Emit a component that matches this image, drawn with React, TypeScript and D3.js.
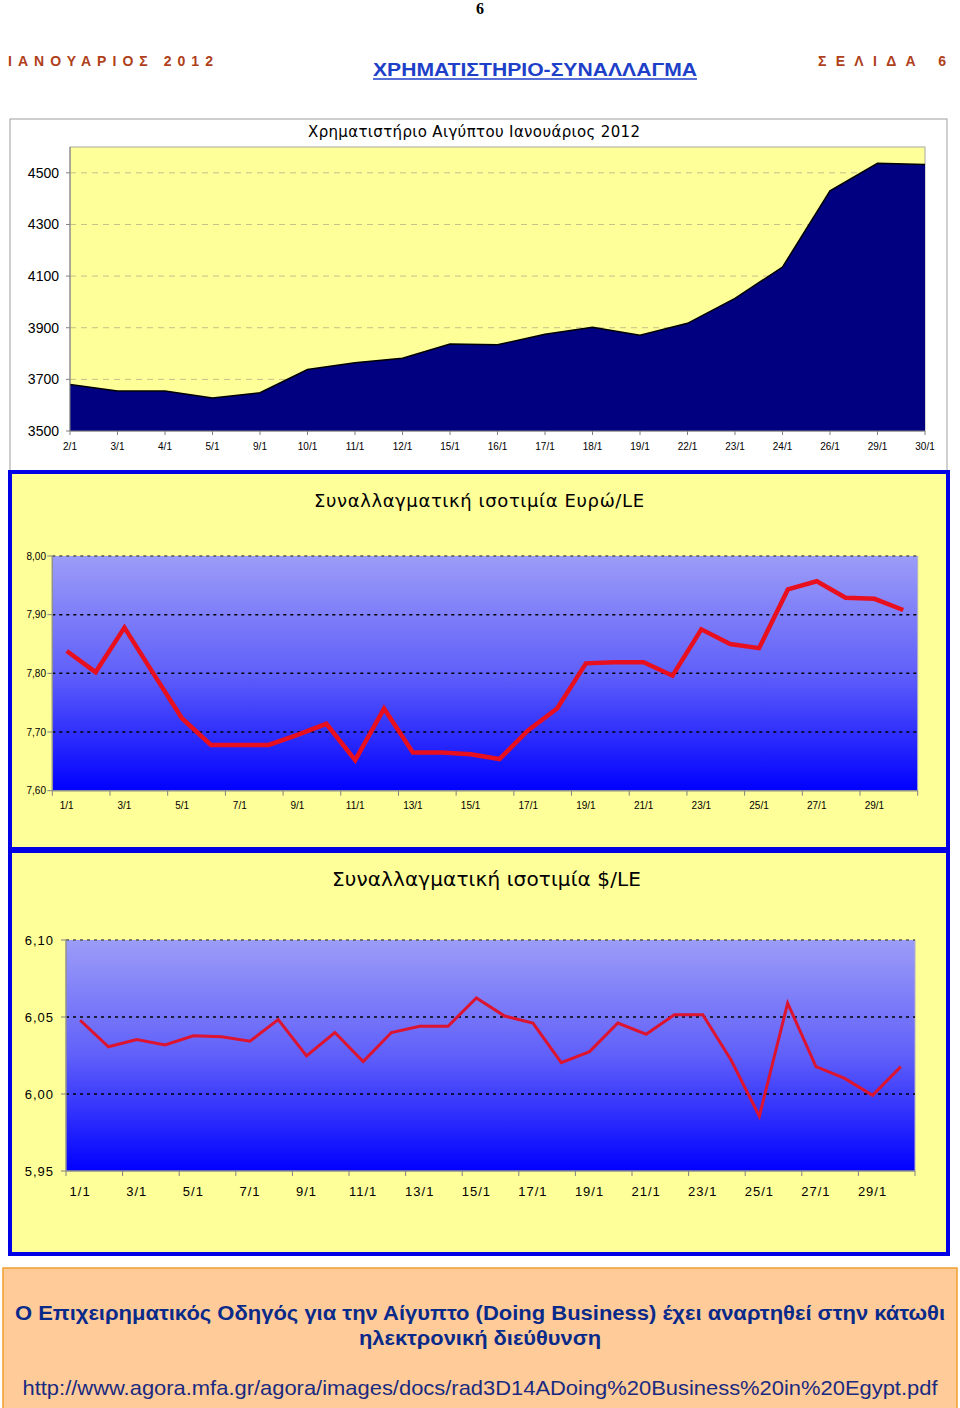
import React from 'react';
import * as d3 from 'd3';

// ---------- DATA ----------
const stockDates = ['2/1','3/1','4/1','5/1','9/1','10/1','11/1','12/1','15/1','16/1','17/1','18/1','19/1','22/1','23/1','24/1','26/1','29/1','30/1'];
const stockValues = [3680,3655,3655,3628,3648,3738,3764,3782,3837,3834,3875,3902,3871,3917,4014,4135,4430,4537,4532];
const stockTicks = [3500,3700,3900,4100,4300,4500];

const fxDays = ['1/1','2/1','3/1','4/1','5/1','6/1','7/1','8/1','9/1','10/1','11/1','12/1','13/1','14/1','15/1','16/1','17/1','18/1','19/1','20/1','21/1','22/1','23/1','24/1','25/1','26/1','27/1','28/1','29/1','30/1'];
const fxLabels = ['1/1','3/1','5/1','7/1','9/1','11/1','13/1','15/1','17/1','19/1','21/1','23/1','25/1','27/1','29/1'];

const eurValues = [7.838,7.802,7.878,7.800,7.723,7.678,7.678,7.678,7.695,7.714,7.652,7.740,7.665,7.665,7.662,7.654,7.703,7.740,7.817,7.819,7.819,7.796,7.875,7.850,7.843,7.943,7.957,7.929,7.927,7.908];
const eurTicks = [7.6,7.7,7.8,7.9,8.0];

const usdValues = [6.0479,6.0307,6.0354,6.0318,6.0378,6.0371,6.0343,6.0483,6.0247,6.0399,6.0210,6.0399,6.0440,6.0440,6.0624,6.0506,6.0461,6.0204,6.0275,6.0461,6.0388,6.0515,6.0515,6.0221,5.9856,6.0590,6.0178,6.0103,5.9991,6.0178];
const usdTicks = [5.95,6.0,6.05,6.1];

const fmtComma = (v: number) => d3.format('.2f')(v).replace('.', ',');

// ---------- CHART 1 ----------
function StockChart() {
  const left = 70, right = 925, top = 147, bottom = 431;
  const x = d3.scalePoint<string>().domain(stockDates).range([left, right]);
  const y = d3.scaleLinear().domain([3500, 4600]).range([bottom, top]);
  const pts = stockDates.map((d, i) => ({ d, v: stockValues[i] }));
  const area = d3.area<any>().x(p => x(p.d)!).y0(bottom).y1(p => y(p.v));
  const line = d3.line<any>().x(p => x(p.d)!).y(p => y(p.v));
  return (
    <g>
      <rect x={10} y={119} width={937} height={360} fill="#ffffff" stroke="#a0a0a0" strokeWidth={1} />
      <text x={474} y={137} textAnchor="middle" fontFamily="DejaVu Sans, sans-serif" fontSize={15} textLength={332} lengthAdjust="spacing" fill="#000">Χρηματιστήριο Αιγύπτου Ιανουάριος 2012</text>
      <rect x={left} y={top} width={right - left} height={bottom - top} fill="#FFFF99" stroke="#a8a8a8" strokeWidth={1} />
      {stockTicks.filter(t => t > 3500).map(t => (
        <line key={t} x1={left} x2={right} y1={y(t)} y2={y(t)} stroke="#c9bd8c" strokeWidth={1} strokeDasharray="6,5" />
      ))}
      <path d={area(pts)!} fill="#000080" />
      <path d={line(pts)!} fill="none" stroke="#000000" strokeWidth={1.5} />
      <line x1={left} x2={left} y1={top} y2={bottom} stroke="#808080" />
      <line x1={left} x2={right} y1={bottom} y2={bottom} stroke="#808080" />
      {stockTicks.map(t => (
        <g key={t}>
          <line x1={left - 4} x2={left} y1={y(t)} y2={y(t)} stroke="#808080" />
          <text x={59} y={y(t) + 5} textAnchor="end" fontFamily="Arial, Liberation Sans, sans-serif" fontSize={14} fill="#000">{t}</text>
        </g>
      ))}
      {stockDates.map(d => (
        <g key={d}>
          <line x1={x(d)!} x2={x(d)!} y1={bottom} y2={bottom + 4} stroke="#808080" />
          <text x={x(d)!} y={450} textAnchor="middle" fontFamily="Arial, Liberation Sans, sans-serif" fontSize={10} fill="#000">{d}</text>
        </g>
      ))}
    </g>
  );
}

// ---------- FX CHART ----------
function FxChart(props: {
  boxY: number; boxH: number; title: string; titleY: number; titleSize: number; titleX0: number; titleX1: number;
  left: number; right: number; top: number; bottom: number; domain: [number, number]; ticks: number[]; values: number[];
  labelSize: number; labelRight: number; xLabelY: number; letterSp: number; lineColor: string; lineW: number; gid: string;
}) {
  const p = props;
  const x = d3.scaleBand<string>().domain(fxDays).range([p.left, p.right]).padding(0);
  const bw = x.bandwidth();
  const cx = (d: string) => x(d)! + bw / 2;
  const y = d3.scaleLinear().domain(p.domain).range([p.bottom, p.top]);
  const line = d3.line<number>().x((v, i) => cx(fxDays[i])).y(v => y(v));
  const tickDays = fxDays.filter((d, i) => i % 2 === 0);
  return (
    <g>
      <defs>
        <linearGradient id={p.gid} x1="0" y1="0" x2="0" y2="1">
          <stop offset="0" stopColor="#9c9cf8" />
          <stop offset="0.5" stopColor="#6060fa" />
          <stop offset="1" stopColor="#0000ff" />
        </linearGradient>
      </defs>
      <rect x={10} y={p.boxY} width={938} height={p.boxH} fill="#FFFF99" stroke="#0000e6" strokeWidth={4} />
      <text x={(p.titleX0 + p.titleX1) / 2} y={p.titleY} textAnchor="middle" fontFamily="DejaVu Sans, sans-serif" fontSize={p.titleSize} textLength={p.titleX1 - p.titleX0} lengthAdjust="spacing" fill="#000">{p.title}</text>
      <rect x={p.left} y={p.top} width={p.right - p.left} height={p.bottom - p.top} fill={`url(#${p.gid})`} />
      <line x1={p.right} x2={p.right} y1={p.top} y2={p.bottom} stroke="#b0b0c8" strokeWidth={1} />
      {p.ticks.filter(t => t > p.domain[0]).map(t => (
        <line key={t} x1={p.left} x2={p.right} y1={y(t)} y2={y(t)} stroke={t === p.domain[1] ? '#555' : '#000'} strokeWidth={1.5} strokeDasharray="3,4" />
      ))}
      <line x1={p.left} x2={p.left} y1={p.top} y2={p.bottom} stroke="#909090" strokeWidth={1.5} />
      <line x1={p.left} x2={p.right} y1={p.bottom} y2={p.bottom} stroke="#909090" strokeWidth={1.5} />
      {p.ticks.map(t => (
        <g key={t}>
          <line x1={p.left - 5} x2={p.left} y1={y(t)} y2={y(t)} stroke="#808080" />
          <text x={p.labelRight} y={y(t) + p.labelSize * 0.35} textAnchor="end" fontFamily="Arial, Liberation Sans, sans-serif" fontSize={p.labelSize} letterSpacing={p.letterSp} fill="#000">{fmtComma(t)}</text>
        </g>
      ))}
      {tickDays.map(d => (
        <line key={d} x1={x(d)!} x2={x(d)!} y1={p.bottom} y2={p.bottom + 5} stroke="#808080" />
      ))}
      <line x1={p.right} x2={p.right} y1={p.bottom} y2={p.bottom + 5} stroke="#808080" />
      {fxLabels.map(d => (
        <text key={d} x={cx(d)} y={p.xLabelY} textAnchor="middle" fontFamily="Arial, Liberation Sans, sans-serif" fontSize={p.labelSize} letterSpacing={p.letterSp} fill="#000">{d}</text>
      ))}
      <path d={line(p.values)!} fill="none" stroke={p.lineColor} strokeWidth={p.lineW} strokeLinejoin="miter" />
    </g>
  );
}

export default function App() {
  return (
    <svg width={960} height={1408} style={{ position: 'absolute', left: 0, top: 0, background: '#fff' }}>
      {/* header */}
      <text x={480} y={14} textAnchor="middle" fontFamily="Liberation Serif, serif" fontWeight="bold" fontSize={16} fill="#000">6</text>
      <text x={8} y={66} fontFamily="Arial, Liberation Sans, sans-serif" fontWeight="bold" fontSize={14} fill="#b0401a" textLength={205} lengthAdjust="spacing">ΙΑΝΟΥΑΡΙΟΣ 2012</text>
      <text x={818} y={66} fontFamily="Arial, Liberation Sans, sans-serif" fontWeight="bold" fontSize={14} fill="#b0401a" textLength={128} lengthAdjust="spacing">ΣΕΛΙΔΑ  6</text>
      <text x={373} y={76} fontFamily="Arial, Liberation Sans, sans-serif" fontWeight="bold" fontSize={18} fill="#1e3fc8" textLength={324} lengthAdjust="spacingAndGlyphs">ΧΡΗΜΑΤΙΣΤΗΡΙΟ-ΣΥΝΑΛΛΑΓΜΑ</text>
      <line x1={373} x2={697} y1={79} y2={79} stroke="#1e3fc8" strokeWidth={1.5} />

      <StockChart />

      <FxChart boxY={472} boxH={377} title="Συναλλαγματική ισοτιμία Ευρώ/LE" titleY={507} titleSize={18} titleX0={314} titleX1={644}
        left={52.3} right={917.7} top={556} bottom={790.7} domain={[7.6, 8.0]} ticks={eurTicks} values={eurValues}
        labelSize={10} labelRight={46} xLabelY={809} letterSp={0} lineColor="#e8101e" lineW={4.5} gid="g1" />

      <FxChart boxY={851} boxH={403} title="Συναλλαγματική ισοτιμία $/LE" titleY={886} titleSize={20} titleX0={332} titleX1={641}
        left={66} right={915} top={940} bottom={1171} domain={[5.95, 6.1]} ticks={usdTicks} values={usdValues}
        labelSize={13} labelRight={54} xLabelY={1196} letterSp={1} lineColor="#dc1430" lineW={3} gid="g2" />

      {/* footer */}
      <rect x={3} y={1268} width={954} height={145} fill="#FFCC99" stroke="#f0a030" strokeWidth={1.5} />
      <text x={480} y={1320} textAnchor="middle" fontFamily="Arial, Liberation Sans, sans-serif" fontWeight="bold" fontSize={21} fill="#0a2a8a" textLength={930} lengthAdjust="spacingAndGlyphs">Ο Επιχειρηματικός Οδηγός για την Αίγυπτο (Doing Business) έχει αναρτηθεί στην κάτωθι</text>
      <text x={480} y={1345} textAnchor="middle" fontFamily="Arial, Liberation Sans, sans-serif" fontWeight="bold" fontSize={21} fill="#0a2a8a" textLength={242} lengthAdjust="spacingAndGlyphs">ηλεκτρονική διεύθυνση</text>
      <text x={480} y={1395} textAnchor="middle" fontFamily="Arial, Liberation Sans, sans-serif" fontSize={21} fill="#1a2a80" textLength={915} lengthAdjust="spacingAndGlyphs">http://www.agora.mfa.gr/agora/images/docs/rad3D14ADoing%20Business%20in%20Egypt.pdf</text>
    </svg>
  );
}
